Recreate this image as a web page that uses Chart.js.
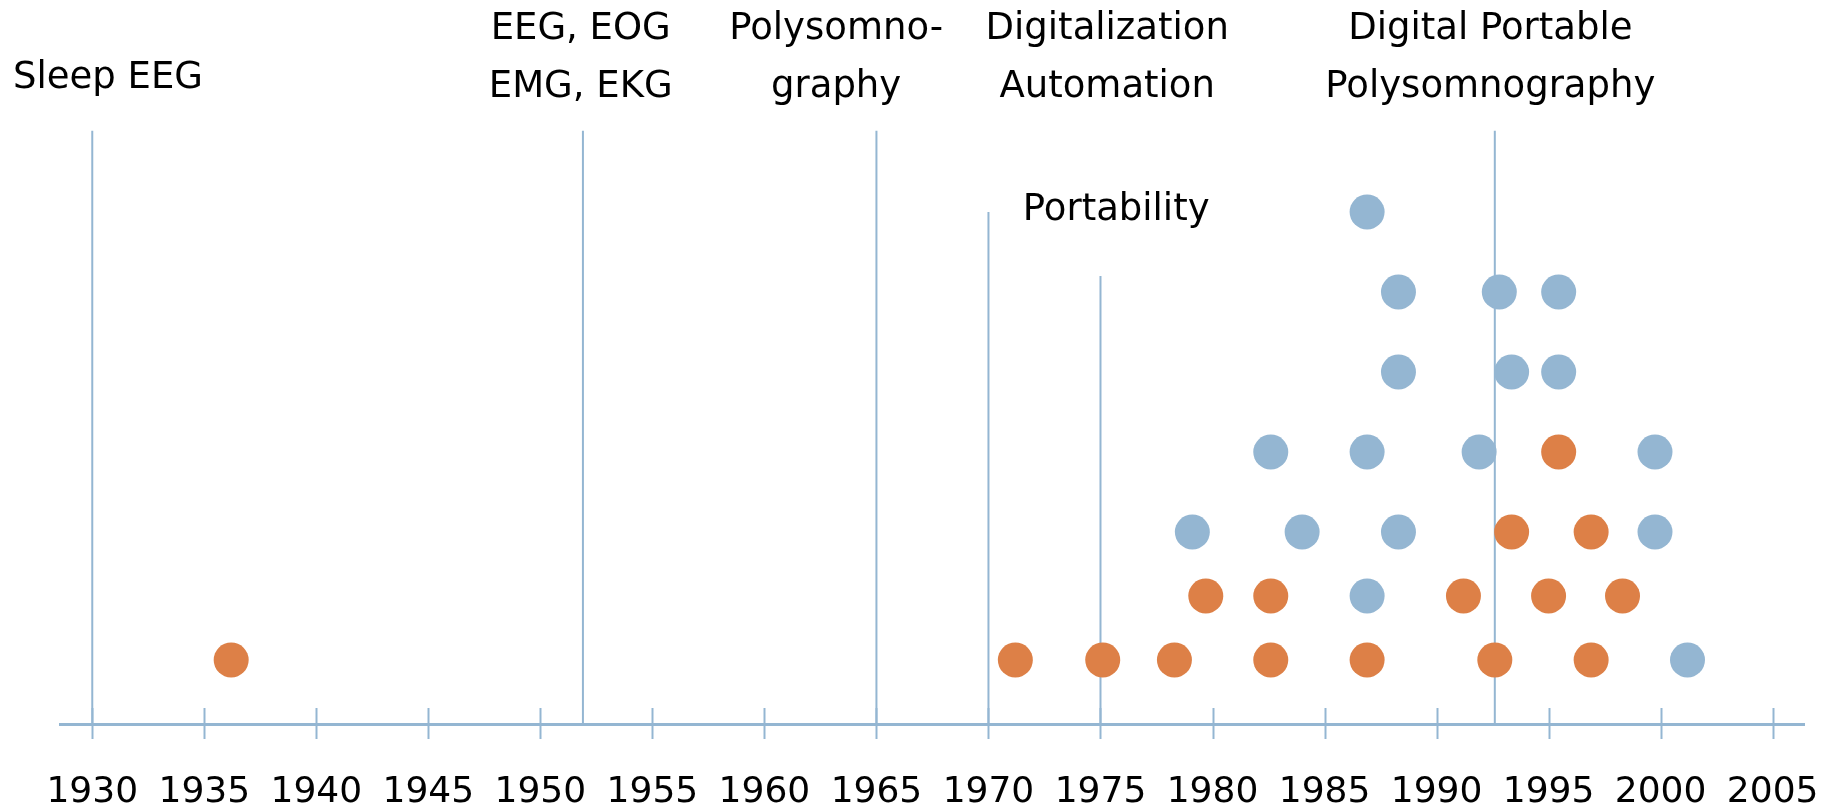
<!DOCTYPE html>
<html>
<head>
<meta charset="utf-8">
<title>Sleep recording timeline</title>
<script src="https://cdn.jsdelivr.net/npm/chart.js@4"></script>
<style>
  html, body { margin: 0; padding: 0; background: #fff; }
  canvas { display: block; }
</style>
</head>
<body>
<canvas id="timeline" width="1833" height="809"></canvas>
<script>
// --- data ---
const yearTicks = [1930, 1935, 1940, 1945, 1950, 1955, 1960, 1965, 1970, 1975, 1980, 1985, 1990, 1995, 2000, 2005];

// orange dots: year, stack level
const orangeYears  = [1936.2, 1971.2, 1975.1, 1978.3, 1982.6, 1986.9, 1992.6, 1996.9,
                      1979.7, 1982.6, 1991.2, 1995.0, 1998.3,
                      1993.35, 1996.9,
                      1995.45];
const orangeLevels = [1, 1, 1, 1, 1, 1, 1, 1,
                      2, 2, 2, 2, 2,
                      3, 3,
                      4.25];

// blue dots
const blueYears  = [2001.2,
                    1986.9,
                    1979.1, 1984.0, 1988.3, 1999.75,
                    1982.6, 1986.9, 1991.9, 1999.75,
                    1988.3, 1993.35, 1995.45,
                    1988.3, 1992.8, 1995.45,
                    1986.9];
const blueLevels = [1,
                    2,
                    3, 3, 3, 3,
                    4.25, 4.25, 4.25, 4.25,
                    5.5, 5.5, 5.5,
                    6.75, 6.75, 6.75,
                    8];

// milestone lines
const milestoneYears = [1930, 1951.9, 1965, 1970, 1975, 1992.6];
const milestoneTops  = [9.27, 9.27, 9.27, 8.0, 7.0, 9.27];

// milestone captions
const captionTexts  = [['Sleep EEG'], ['EEG, EOG', 'EMG, EKG'], ['Polysomno-', 'graphy'],
                       ['Digitalization', 'Automation'], ['Portability'], ['Digital Portable', 'Polysomnography']];
const captionYears  = [1930.7, 1951.8, 1963.2, 1975.3, 1975.7, 1992.4];
const captionLevels = [9.94, 10.7, 10.7, 10.7, 7.875, 10.7];

const BLUE = '#94B6D2';
const ORANGE = '#DD8047';
const FONT = '"DejaVu Sans", sans-serif';

const toPoints = (xs, ys) => xs.map((x, i) => ({ x, y: ys[i] }));

const datasets = [
  { type: 'scatter', data: toPoints(orangeYears, orangeLevels), backgroundColor: ORANGE,
    pointRadius: 17.5, borderWidth: 0, order: 0 },
  { type: 'scatter', data: toPoints(blueYears, blueLevels), backgroundColor: BLUE,
    pointRadius: 17.5, borderWidth: 0, order: 0 }
];
milestoneYears.forEach((yr, i) => {
  datasets.push({
    type: 'line',
    data: [{ x: yr, y: 0 }, { x: yr, y: milestoneTops[i] }],
    borderColor: BLUE, borderWidth: 2, pointRadius: 0, order: 1
  });
});

// tick marks crossing the axis + captions
const decorations = {
  id: 'decorations',
  afterDatasetsDraw(chart) {
    const { ctx, scales: { x, y } } = chart;
    const axisY = y.getPixelForValue(0);
    ctx.save();
    ctx.strokeStyle = BLUE;
    ctx.lineWidth = 2;
    yearTicks.forEach(t => {
      const px = Math.round(x.getPixelForValue(t)) + 0.5;
      ctx.beginPath();
      ctx.moveTo(px, axisY - 16);
      ctx.lineTo(px, axisY + 15);
      ctx.stroke();
    });

    ctx.fillStyle = '#000';
    ctx.font = '37px ' + FONT;
    ctx.textAlign = 'center';
    ctx.textBaseline = 'alphabetic';
    captionTexts.forEach((lines, i) => {
      const cx = x.getPixelForValue(captionYears[i]);
      const cy = y.getPixelForValue(captionLevels[i]);
      lines.forEach((ln, j) => ctx.fillText(ln, cx, cy + j * 58));
    });
    ctx.restore();
  }
};

new Chart(document.getElementById('timeline'), {
  data: { datasets },
  options: {
    responsive: false,
    animation: false,
    layout: { autoPadding: false, padding: { left: 60, right: 29, top: 0, bottom: 0 } },
    plugins: { legend: { display: false }, tooltip: { enabled: false } },
    scales: {
      x: {
        type: 'linear',
        min: 1928.56,
        max: 2006.4,
        grid: { display: false, drawTicks: false },
        border: { display: true, color: BLUE, width: 3 },
        afterBuildTicks: s => { s.ticks = yearTicks.map(v => ({ value: v })); },
        afterFit: s => { s.height = 85; s.paddingLeft = 0; s.paddingRight = 0; },
        ticks: {
          padding: 47,
          color: '#000',
          font: { family: FONT, size: 36 },
          maxRotation: 0,
          autoSkip: false,
          callback: v => String(v)
        }
      },
      y: {
        type: 'linear',
        display: false,
        min: 0,
        max: 11.3125
      }
    }
  },
  plugins: [decorations]
});
</script>
</body>
</html>
